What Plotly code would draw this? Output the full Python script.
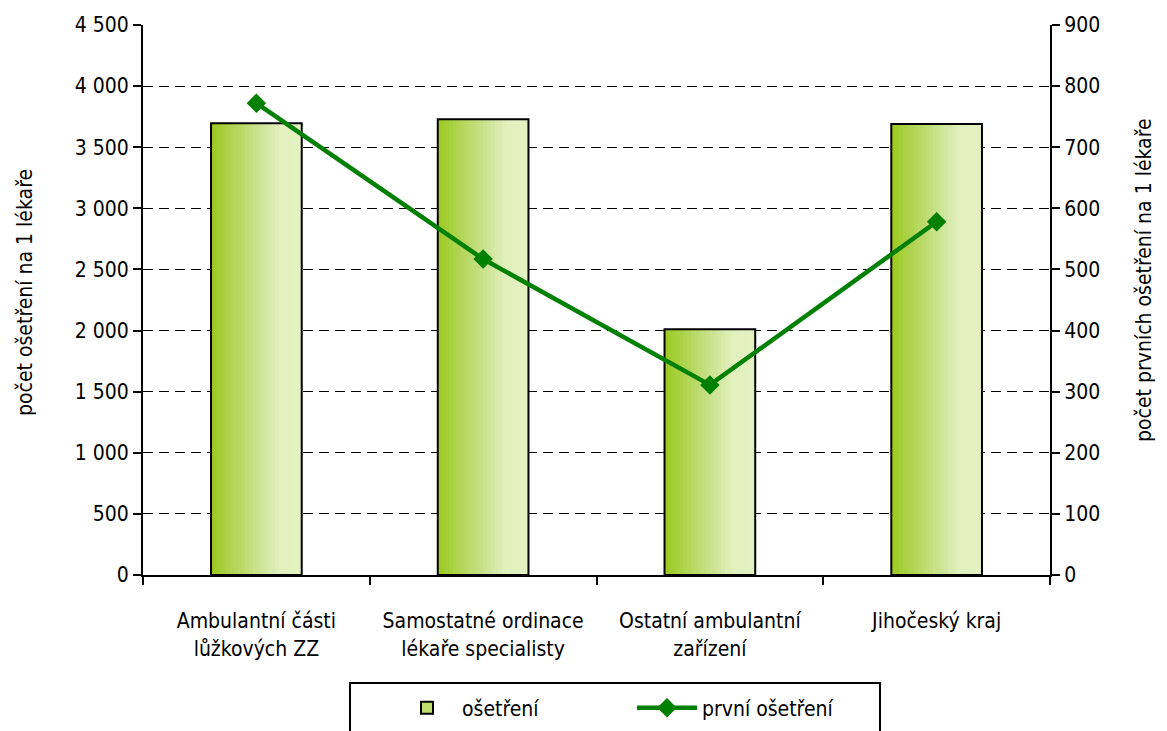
import plotly.graph_objects as go
from plotly.subplots import make_subplots

categories = ["Ambulantní části<br>lůžkových ZZ", "Samostatné ordinace<br>lékaře specialisty",
              "Ostatní ambulantní<br>zařízení", "Jihočeský kraj"]
osetreni = [3696, 3729, 2010, 3690]
prvni_osetreni = [772, 517, 311, 578]
left_ticks = [0, 500, 1000, 1500, 2000, 2500, 3000, 3500, 4000, 4500]
right_ticks = [0, 100, 200, 300, 400, 500, 600, 700, 800, 900]
left_title = "počet ošetření na 1 lékaře"
right_title = "počet prvních ošetření na 1 lékaře"

FONT = "Liberation Sans Narrow, Arial Narrow, DejaVu Sans Condensed, Liberation Sans, sans-serif"
FS = 21
BAR_W = 0.4
N = 24
stops = [(0.0, (155, 201, 32)), (0.55, (205, 228, 150)), (0.75, (226, 240, 190)), (1.0, (228, 241, 194))]

# page body has an 8px margin; plot area should land at x 143..1050, y 25..575
OFF = 8
W, H = 1167 - OFF, 731 - OFF
ML, MR, MT, MB = 143 - OFF, 1167 - 1050, 25 - OFF, 731 - 575
PW, PH = 1050 - 143, 575 - 25


def px_x(x):
    return (x - 143) / PW


def px_y(y):
    return (575 - y) / PH


def grad(t):
    for (t0, c0), (t1, c1) in zip(stops, stops[1:]):
        if t <= t1:
            f = (t - t0) / (t1 - t0) if t1 > t0 else 0
            return "rgb(%d,%d,%d)" % tuple(round(a + (b - a) * f) for a, b in zip(c0, c1))
    return "rgb(%d,%d,%d)" % stops[-1][1]


def fmt(v):
    return f"{v:,}".replace(",", " ")


fig = make_subplots(specs=[[{"secondary_y": True}]])

# gradient-filled bars built from overlaid strips
d = BAR_W / N
for i in range(N):
    fig.add_trace(go.Bar(x=categories, y=osetreni, width=BAR_W - i * d, offset=-BAR_W / 2 + i * d,
                         marker=dict(color=grad((i + 0.5) / N), line=dict(width=0)),
                         showlegend=False, hoverinfo="skip"), secondary_y=False)
# outline
fig.add_trace(go.Bar(x=categories, y=osetreni, width=BAR_W, offset=-BAR_W / 2,
                     marker=dict(color="rgba(0,0,0,0)", line=dict(color="black", width=2)),
                     showlegend=False, hoverinfo="skip"), secondary_y=False)
# legend entry for bars
fig.add_trace(go.Bar(x=[categories[0]], y=[None], name="ošetření",
                     marker=dict(color="rgb(190,220,110)", line=dict(color="black", width=2))),
              secondary_y=False)

fig.add_trace(go.Scatter(x=categories, y=prvni_osetreni, name="první ošetření", mode="lines+markers",
                         line=dict(color="#008000", width=4.5),
                         marker=dict(symbol="diamond", size=15, color="#008000")),
              secondary_y=True)

fig.update_layout(
    barmode="overlay",
    width=W, height=H,
    margin=dict(l=ML, r=MR, t=MT, b=MB, autoexpand=False),
    paper_bgcolor="white", plot_bgcolor="white",
    font=dict(family=FONT, size=FS, color="black"),
    hovermode=False,
    legend=dict(orientation="h", x=px_x(392), xanchor="left", y=px_y(708), yanchor="middle",
                borderwidth=0, bgcolor="rgba(0,0,0,0)", font=dict(size=FS, family=FONT),
                entrywidth=165, itemwidth=60, traceorder="normal"),
    shapes=[dict(type="rect", xref="paper", yref="paper", x0=px_x(350), x1=px_x(880),
                 y0=px_y(740), y1=px_y(683), line=dict(color="black", width=2), layer="below")],
    annotations=[
        dict(text=left_title, xref="paper", yref="paper", x=px_x(25), y=px_y(292),
             xanchor="center", yanchor="middle",
             textangle=-90, showarrow=False, font=dict(size=FS)),
        dict(text=right_title, xref="paper", yref="paper", x=px_x(1158), y=px_y(280),
             xanchor="right", yanchor="middle",
             textangle=-90, showarrow=False, font=dict(size=FS)),
    ],
)
fig.update_xaxes(domain=[0, 1], showline=True, linecolor="black", linewidth=2, ticks="outside",
                 tickson="boundaries", tickangle=0, ticklabelstandoff=26,
                 ticklen=8, tickwidth=2, tickcolor="black", showgrid=False, mirror=False,
                 tickfont=dict(size=FS), automargin=False)
fig.update_yaxes(secondary_y=False, range=[0, 4500], tickvals=left_ticks,
                 ticktext=[fmt(v) for v in left_ticks], showline=True, linecolor="black", linewidth=2,
                 ticks="outside", ticklen=8, tickwidth=2, tickcolor="black", automargin=False,
                 showgrid=True, gridcolor="black", gridwidth=1, griddash="10px,6px", zeroline=False)
fig.update_yaxes(secondary_y=True, range=[0, 900], tickvals=right_ticks,
                 ticktext=[fmt(v) for v in right_ticks], showline=True, linecolor="black", linewidth=2,
                 ticks="outside", ticklen=8, tickwidth=2, tickcolor="black", showgrid=False,
                 zeroline=False, automargin=False)

fig.write_html("out.html")
